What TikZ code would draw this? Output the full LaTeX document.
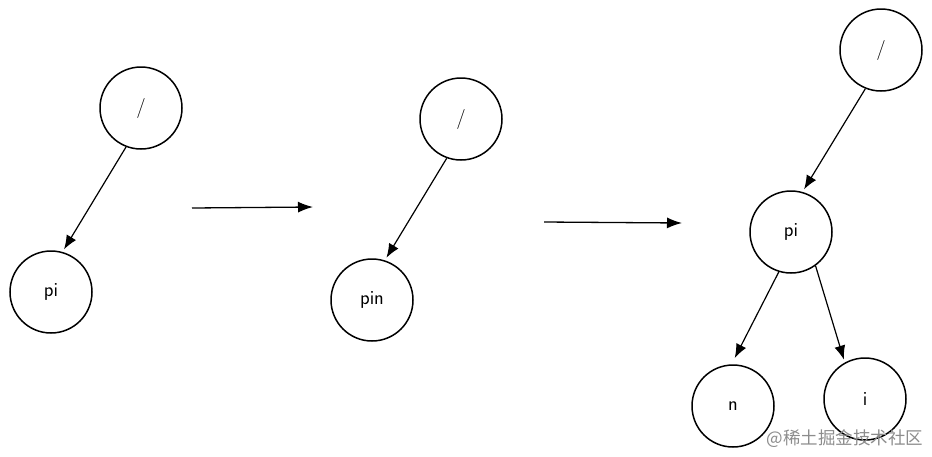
\documentclass[tikz,border=0pt]{standalone}
\usepackage{fontspec}
\usepackage{xcolor}
\usepackage{tikz}
\usetikzlibrary{arrows.meta}
\newfontfamily\cjk{Noto Sans CJK SC}

\begin{document}
\begin{tikzpicture}[x=1pt, y=-1pt,
    treenode/.style={circle, draw=black, line width=1.5pt, minimum size=82pt, inner sep=0pt,
      font=\sffamily\fontsize{20}{24}\selectfont},
    treeedge/.style={line width=1.2pt, -{Latex[length=14pt,width=11pt]}, shorten >=3pt},
    steparrow/.style={line width=1.3pt, -{Latex[length=15pt,width=11pt]}}]
          \useasboundingbox (0,0) rectangle (932,456);

          \foreach \x\y\t [count=\xi from 1] in {141/108/{/}, 51/292/{pi}}{%
            \node[treenode] (\xi) at (\x, \y) {\t};
          }
          \foreach \x\y\t [count=\xi from 11] in {461/119/{/}, 372/300/{pin}}{%
            \node[treenode] (\xi) at (\x, \y) {\t};
          }
          \foreach \x\y\t [count=\xi from 21] in {881/50/{/}, 791/232/{pi}, 733/406/{n}, 865/399/{i}}{%
            \node[treenode] (\xi) at (\x, \y) {\t};
          }

          \draw [treeedge] (1.249) -- (2.74);
          \draw [treeedge] (11.250) -- (12.72);
          \draw [treeedge] (21.248) -- (22.74);
          \draw [treeedge, shorten >=7pt] (22.253) -- (23.92);
          \draw [treeedge] (22.306) -- (24.119);

          \coordinate (s1) at (192,208);
          \coordinate (e1) at (313,207);
          \coordinate (s2) at (544,222);
          \coordinate (e2) at (682,223);
          \draw [steparrow] (s1) -- (e1);
          \draw [steparrow] (s2) -- (e2);

          \node[text=black!45, font=\cjk\fontsize{17.5}{20}\selectfont] (mark) at (845,439) {@稀土掘金技术社区};
        \end{tikzpicture}
\end{document}
